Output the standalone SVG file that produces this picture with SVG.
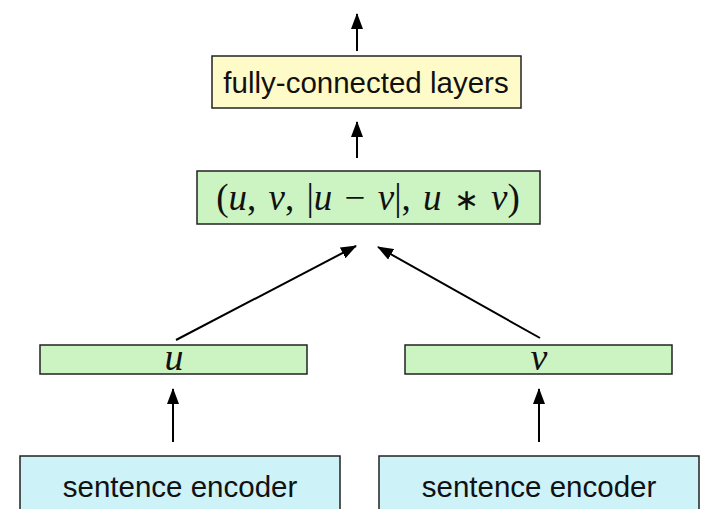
<svg xmlns="http://www.w3.org/2000/svg" width="720" height="509" viewBox="0 0 720 509">
<defs>
<marker id="ah" viewBox="0 0 16 12" refX="15" refY="6" markerWidth="16" markerHeight="12" markerUnits="userSpaceOnUse" orient="auto">
<path d="M0,0 L16,6 L0,12 z" fill="#000"/>
</marker>
<style>
.box{stroke:#222;stroke-width:1.5}
.sans{font-family:"Liberation Sans",Arial,sans-serif;fill:#111}
.math{font-family:"Liberation Serif","Times New Roman",serif;fill:#111}
.it{font-style:italic}
.conn{stroke:#000;stroke-width:2;fill:none;marker-end:url(#ah)}
</style>
</defs>
<rect width="720" height="509" fill="#fff"/>
<g id="fc">
<rect class="box" x="212" y="56" width="309" height="52" fill="#fffbc8"/>
<text class="sans" x="366" y="93" font-size="29.5" text-anchor="middle">fully-connected layers</text>
</g>
<g id="concat">
<rect class="box" x="197" y="171" width="343" height="53" fill="#ccf3c2"/>
<text class="math" x="368" y="210" font-size="37" text-anchor="middle" word-spacing="3">(<tspan class="it">u</tspan>, <tspan class="it">v</tspan>, |<tspan class="it">u</tspan> − <tspan class="it">v</tspan>|, <tspan class="it">u</tspan> <tspan font-size="30">∗</tspan> <tspan class="it">v</tspan>)</text>
</g>
<g id="u">
<rect class="box" x="40" y="345" width="267" height="29" fill="#ccf3c2"/>
<text class="math it" x="174" y="370" font-size="38" text-anchor="middle">u</text>
</g>
<g id="v">
<rect class="box" x="405" y="345" width="267" height="29" fill="#ccf3c2"/>
<text class="math it" x="539" y="370" font-size="38" text-anchor="middle">v</text>
</g>
<g id="enc1">
<rect class="box" x="20" y="456" width="320" height="60" fill="#cdf2f8"/>
<text class="sans" x="180" y="497" font-size="29.5" text-anchor="middle">sentence encoder</text>
</g>
<g id="enc2">
<rect class="box" x="379" y="456" width="320" height="60" fill="#cdf2f8"/>
<text class="sans" x="539" y="497" font-size="29.5" text-anchor="middle">sentence encoder</text>
</g>
<g id="connectors">
<line class="conn" x1="357" y1="51" x2="357" y2="14"/>
<line class="conn" x1="357" y1="158" x2="357" y2="122"/>
<line class="conn" x1="176" y1="340" x2="356" y2="246"/>
<line class="conn" x1="540" y1="338" x2="378" y2="247"/>
<line class="conn" x1="173" y1="442" x2="173" y2="389"/>
<line class="conn" x1="539" y1="442" x2="539" y2="389"/>
</g>
</svg>
